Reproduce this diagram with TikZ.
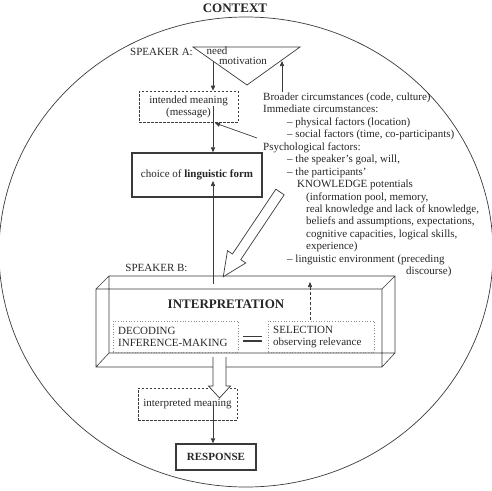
\documentclass[tikz,border=0pt]{standalone}
\usepackage{fontspec}
\setmainfont{Liberation Serif}
\usetikzlibrary{arrows.meta,calc}
\definecolor{lc}{HTML}{3A3A3A}
\definecolor{tc}{HTML}{262626}
\definecolor{dc}{HTML}{8A8A8A}
\begin{document}
\begin{tikzpicture}[x=1pt,y=-1pt,
  every node/.style={text=tc, font=\fontsize{11}{12.45}\selectfont, inner sep=0pt},
  ln/.style={draw=lc, line width=0.7pt},
  arr/.style={ln, -{Triangle[length=5pt,width=4.2pt]}},
  dbox/.style={draw=lc, dashed, dash pattern=on 2.5pt off 1.5pt, line width=0.6pt},
  obox/.style={draw=dc, dotted, line width=0.7pt},
  tbox/.style={draw=lc, line width=1.4pt},
  hollow/.style={draw=lc, line width=0.7pt, fill=white, line join=miter}
]
\useasboundingbox (0,0) rectangle (492,490);

% context ellipse and title
\draw[ln] (246,252) ellipse [x radius=247pt, y radius=235pt];
\node[font=\fontsize{13}{15}\selectfont\bfseries] (ctx) at (235,8) {CONTEXT};

% speaker A triangle
\coordinate (t1) at (193,47);
\coordinate (t2) at (300,47);
\coordinate (t3) at (247,85);
\draw[ln] (t1) -- (t2) -- (t3) -- cycle;
\node[anchor=base east] (spa) at (193,55.5) {SPEAKER A:};
\node[anchor=base] (need) at (217,54.5) {need};
\node[anchor=base] (motiv) at (243,64.5) {motivation};

% intended meaning
\node[dbox, minimum width=99pt, minimum height=31pt, align=center] (imean) at (188.5,106.5) {intended meaning\\[-0.5pt](message)};
\coordinate (ta) at (213,62);
\draw[arr] (ta) -- (ta |- imean.north);

% choice box
\node[tbox, minimum width=130pt, minimum height=44pt] (choice) at (197,175) {choice of \textbf{linguistic form}};
\coordinate (ms) at (213,106);
\draw[arr] (ms) -- (ms |- choice.north);

% context text
\node[anchor=north west, align=left] (ctext) at (263,92.6) {%
Broader circumstances (code, culture)\\
Immediate circumstances:\\
\hspace*{24pt}– physical factors (location)\\
\hspace*{24pt}– social factors (time, co-participants)\\
Psychological factors:\\
\hspace*{24pt}– the speaker’s goal, will,\\
\hspace*{24pt}– the participants’\\
\hspace*{34pt}KNOWLEDGE potentials\\
\hspace*{43pt}(information pool, memory,\\
\hspace*{43pt}real knowledge and lack of knowledge,\\
\hspace*{43pt}beliefs and assumptions, expectations,\\
\hspace*{43pt}cognitive capacities, logical skills,\\
\hspace*{43pt}experience)\\
\hspace*{24pt}– linguistic environment (preceding\\
\hspace*{143pt}discourse)};

\coordinate (bc) at (282,92);
\draw[arr] (bc) -- (282,61);
\coordinate (pf) at (257,138);
\draw[arr] (pf) -- (215,123);

% interpretation 3D box
\coordinate (f1) at (96,289);
\coordinate (f2) at (382,289);
\coordinate (f3) at (382,367);
\coordinate (f4) at (96,367);
\coordinate (b1) at (109,276);
\coordinate (b2) at (395,276);
\coordinate (b3) at (395,353);
\coordinate (b4) at (109,353);
\draw[ln, line width=0.6pt] (f1) -- (f2) -- (f3) -- (f4) -- cycle
  (b1) -- (b2) -- (b3) -- (b4) -- cycle
  (f1) -- (b1) (f2) -- (b2) (f3) -- (b3) (f4) -- (b4);
\node (spb) at (156.5,268) {SPEAKER B:};
\node[font=\fontsize{13}{15}\selectfont\bfseries] (interp) at (226,304) {INTERPRETATION};

\node[obox, minimum width=125pt, minimum height=31pt] (dec) at (175.5,336.5) {};
\node[anchor=west, align=left] (dect) at (118,337) {DECODING\\[-0.5pt]INFERENCE-MAKING};
\node[obox, minimum width=106pt, minimum height=31pt] (sel) at (321,336.5) {};
\node[anchor=west, align=left] (selt) at (273,337) {SELECTION\\[-0.5pt]observing relevance};
\coordinate (e1) at (243,336.5);
\coordinate (e2) at (262,336.5);
\draw[draw=lc, line width=1.1pt] (e1) -- (e2) ($(e1)+(0,4.5)$) -- ($(e2)+(0,4.5)$);

\coordinate (da) at (310,320);
\draw[arr, dashed, dash pattern=on 3pt off 2pt] (da) -- (310,282);

\coordinate (ia) at (213,284);
\draw[arr] (ia) -- (ia |- 0,181);

% big diagonal hollow arrow
\begin{scope}[shift={(280,192)}, rotate=-123.8]
\draw[hollow] (0,-5) -- (78,-5) -- (78,-11) -- (102,0) -- (78,11) -- (78,5) -- (0,5) -- cycle;
\end{scope}

% interpreted meaning
\node[dbox, minimum width=99pt, minimum height=32pt] (imn) at (187.5,404) {interpreted meaning};
\begin{scope}[shift={(219.5,357)}]
\draw[hollow] (-6.5,0) -- (-6.5,29) -- (-11,29) -- (0,41) -- (11,29) -- (6.5,29) -- (6.5,0);
\end{scope}

% response
\node[tbox, minimum width=80pt, minimum height=26pt, font=\fontsize{11}{13}\selectfont\bfseries] (resp) at (216,457) {RESPONSE};
\coordinate (ra) at (213,405);
\draw[arr] (ra) -- (ra |- resp.north);
\end{tikzpicture}
\end{document}
